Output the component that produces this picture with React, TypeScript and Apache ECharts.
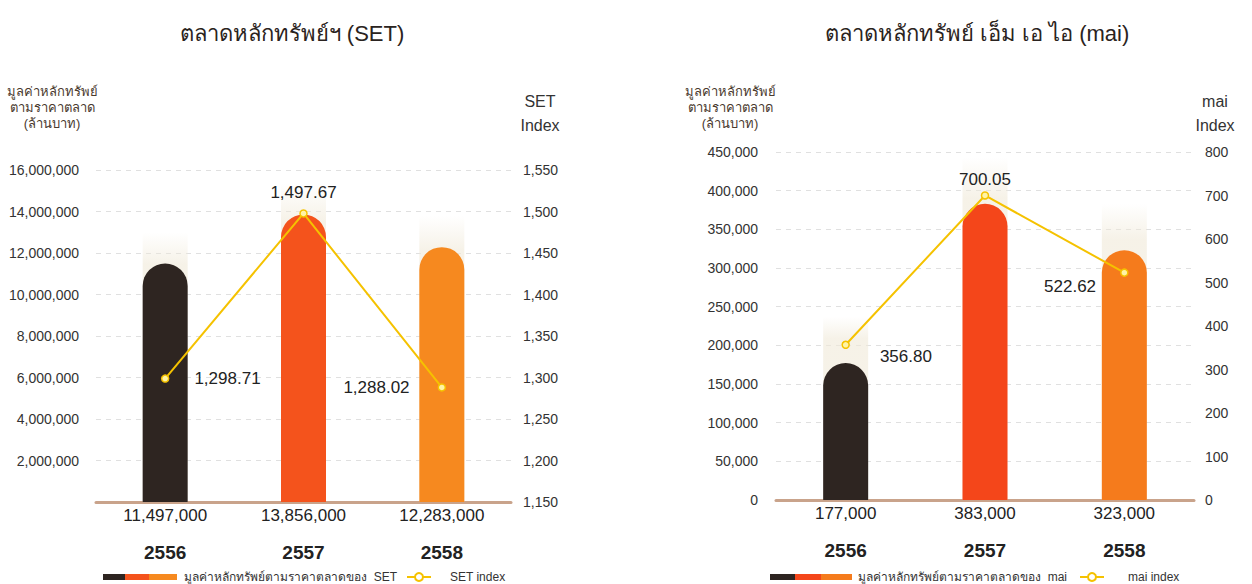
import React, { useEffect, useRef } from 'react';
import * as echarts from 'echarts';

const categories = ['2556', '2557', '2558'];
const setMarketCap = [11497000, 13856000, 12283000];
const setIndex = [1298.71, 1497.67, 1288.02];
const maiMarketCap = [177000, 383000, 323000];
const maiIndex = [356.8, 700.05, 522.62];

const setBarColors = ['#2e2521', '#f4531c', '#f6891f'];
const maiBarColors = ['#2e2521', '#f4461a', '#f57b1c'];

const setTitle = 'ตลาดหลักทรัพย์ฯ (SET)';
const maiTitle = 'ตลาดหลักทรัพย์ เอ็ม เอ ไอ (mai)';
const leftAxisName = 'มูลค่าหลักทรัพย์\nตามราคาตลาด\n(ล้านบาท)';
const setRightName = 'SET\nIndex';
const maiRightName = 'mai\nIndex';
const setLegendBar = 'มูลค่าหลักทรัพย์ตามราคาตลาดของ  SET';
const setLegendLine = 'SET index';
const maiLegendBar = 'มูลค่าหลักทรัพย์ตามราคาตลาดของ  mai';
const maiLegendLine = 'mai index';

const FONT = '"Liberation Sans", Arial, "Noto Sans", sans-serif';
const LINE_COLOR = '#f5c200';
const GLOW_SET = 1500000;
const GLOW_MAI = 60000;

const fmtInt = (v: number) => v.toLocaleString('en-US');
const fmtDec = (v: number) =>
  v.toLocaleString('en-US', { minimumFractionDigits: 2, maximumFractionDigits: 2 });

function glowStyle() {
  return {
    color: new echarts.graphic.LinearGradient(0, 0, 0, 1, [
      { offset: 0, color: 'rgba(240,233,216,0.0)' },
      { offset: 0.12, color: 'rgba(240,233,216,0.6)' },
      { offset: 1, color: 'rgba(240,233,216,0.6)' },
    ]),
  };
}

export default function App() {
  const ref = useRef<HTMLDivElement>(null);
  useEffect(() => {
    if (!ref.current) return;
    const chart = echarts.init(ref.current, null, { renderer: 'svg' });

    const xRich = {
      v: { fontSize: 17, color: '#222', fontFamily: FONT, lineHeight: 20 },
      y: { fontSize: 19, fontWeight: 'bold', color: '#222', fontFamily: FONT, lineHeight: 54 },
    };
    const makeX = (gridIndex: number, values: number[]) => ({
      gridIndex,
      type: 'category',
      data: categories,
      axisLine: { show: true, lineStyle: { color: '#c9a38b', width: 3 } },
      axisTick: { show: false },
      axisLabel: {
        margin: 3,
        formatter: (v: string, i: number) => `{v|${fmtInt(values[i])}}\n{y|${v}}`,
        rich: xRich,
      },
    });
    const axisLabelBase = { color: '#333', fontSize: 14, fontFamily: FONT };

    const lineLabel = (positions: any[]) => (v: number, i: number) => ({
      value: v,
      label: positions[i],
    });

    const setLabelPos = [
      { position: 'right', distance: 25 },
      { position: 'top', distance: 8 },
      { position: 'left', distance: 28 },
    ];
    const maiLabelPos = [
      { position: 'right', distance: 30, offset: [0, 12] },
      { position: 'top', distance: 3 },
      { position: 'left', distance: 24, offset: [0, 14] },
    ];

    const lineSeries = (xi: number, yi: number, data: number[], pos: any[]) => ({
      type: 'line',
      xAxisIndex: xi,
      yAxisIndex: yi,
      data: data.map(lineLabel(pos)),
      symbol: 'circle',
      symbolSize: 7,
      z: 5,
      lineStyle: { color: LINE_COLOR, width: 2 },
      itemStyle: { color: '#fff4a6', borderColor: LINE_COLOR, borderWidth: 1.5 },
      label: {
        show: true,
        color: '#222',
        fontSize: 17,
        fontFamily: FONT,
        formatter: (p: any) => fmtDec(p.value),
      },
    });

    const barSeries = (xi: number, yi: number, data: number[], colors: string[]) => ({
      type: 'bar',
      xAxisIndex: xi,
      yAxisIndex: yi,
      barWidth: 45,
      barGap: '-100%',
      z: 3,
      data: data.map((v, i) => ({ value: v, itemStyle: { color: colors[i] } })),
      itemStyle: { borderRadius: [22.5, 22.5, 0, 0] },
    });

    const glowSeries = (xi: number, yi: number, data: number[], extra: number) => ({
      type: 'bar',
      xAxisIndex: xi,
      yAxisIndex: yi,
      barWidth: 45,
      barGap: '-100%',
      silent: true,
      z: 1,
      data: data.map((v) => v + extra),
      itemStyle: glowStyle(),
    });

    const splitLine = { show: true, lineStyle: { color: '#e0e0e0', type: [5, 5], width: 1 } };

    const txt = (x: number, y: number, text: string, size: number, extra: any = {}) => ({
      type: 'text',
      x,
      y,
      style: {
        text,
        fontSize: size,
        fontFamily: FONT,
        fill: '#2a2320',
        align: 'center',
        verticalAlign: 'middle',
        textAlign: 'center',
        textVerticalAlign: 'middle',
        ...extra,
      },
    });

    const legendSwatch = (x: number, w: number, colors: string[]) => ({
      type: 'rect',
      shape: { x, y: 574, width: w, height: 6 },
      style: {
        fill: new echarts.graphic.LinearGradient(0, 0, 1, 0, [
          { offset: 0, color: colors[0] },
          { offset: 0.3, color: colors[0] },
          { offset: 0.3, color: colors[1] },
          { offset: 0.62, color: colors[1] },
          { offset: 0.62, color: colors[2] },
          { offset: 1, color: colors[2] },
        ]),
      },
    });
    const legendLineIcon = (x: number) => [
      {
        type: 'line',
        shape: { x1: x, y1: 577, x2: x + 24, y2: 577 },
        style: { stroke: LINE_COLOR, lineWidth: 2 },
      },
      {
        type: 'circle',
        shape: { cx: x + 12, cy: 577, r: 4 },
        style: { fill: '#fff', stroke: LINE_COLOR, lineWidth: 2 },
      },
    ];

    const titleStyle = { fontSize: 22, fontWeight: 'normal', color: '#2a2320', fontFamily: FONT };

    const option: any = {
      animation: false,
      backgroundColor: '#fff',
      title: [
        { text: setTitle, left: 287, top: 17, textAlign: 'center', textStyle: titleStyle },
        { text: maiTitle, left: 972, top: 17, textAlign: 'center', textStyle: titleStyle },
      ],
      grid: [
        { left: 96, right: 741, top: 170, bottom: 82 },
        { left: 776, right: 58, top: 152, bottom: 84 },
      ],
      xAxis: [makeX(0, setMarketCap), makeX(1, maiMarketCap)],
      yAxis: [
        {
          gridIndex: 0,
          type: 'value',
          min: 0,
          max: 16000000,
          interval: 2000000,
          position: 'left',
          axisLine: { show: false },
          axisTick: { show: false },
          splitLine,
          axisLabel: {
            ...axisLabelBase,
            margin: 17,
            formatter: (v: number) => (v === 0 ? '' : fmtInt(v)),
          },
        },
        {
          gridIndex: 0,
          type: 'value',
          min: 1150,
          max: 1550,
          interval: 50,
          position: 'right',
          axisLine: { show: false },
          axisTick: { show: false },
          splitLine: { show: false },
          axisLabel: { ...axisLabelBase, margin: 12, formatter: (v: number) => fmtInt(v) },
        },
        {
          gridIndex: 1,
          type: 'value',
          min: 0,
          max: 450000,
          interval: 50000,
          position: 'left',
          axisLine: { show: false },
          axisTick: { show: false },
          splitLine,
          axisLabel: { ...axisLabelBase, margin: 18, formatter: (v: number) => fmtInt(v) },
        },
        {
          gridIndex: 1,
          type: 'value',
          min: 0,
          max: 800,
          interval: 100,
          position: 'right',
          axisLine: { show: false },
          axisTick: { show: false },
          splitLine: { show: false },
          axisLabel: { ...axisLabelBase, margin: 11, formatter: (v: number) => fmtInt(v) },
        },
      ],
      series: [
        glowSeries(0, 0, setMarketCap, GLOW_SET),
        barSeries(0, 0, setMarketCap, setBarColors),
        lineSeries(0, 1, setIndex, setLabelPos),
        glowSeries(1, 2, maiMarketCap, GLOW_MAI),
        barSeries(1, 2, maiMarketCap, maiBarColors),
        lineSeries(1, 3, maiIndex, maiLabelPos),
      ],
      graphic: [
        txt(52, 107, leftAxisName, 13, { lineHeight: 16, fill: '#4a3a2e' }),
        txt(730, 107, leftAxisName, 13, { lineHeight: 16, fill: '#4a3a2e' }),
        txt(540, 113, setRightName, 16, { lineHeight: 24, fill: '#333' }),
        txt(1215, 113, maiRightName, 16, { lineHeight: 24, fill: '#333' }),
        legendSwatch(103, 74, setBarColors),
        txt(184, 577, setLegendBar, 12, { align: 'left', textAlign: 'left', fill: '#333' }),
        ...legendLineIcon(407),
        txt(450, 577, setLegendLine, 12, { align: 'left', textAlign: 'left', fill: '#333' }),
        legendSwatch(770, 82, maiBarColors),
        txt(858, 577, maiLegendBar, 12, { align: 'left', textAlign: 'left', fill: '#333' }),
        ...legendLineIcon(1080),
        txt(1128, 577, maiLegendLine, 12, { align: 'left', textAlign: 'left', fill: '#333' }),
      ],
    };

    chart.setOption(option);
    return () => chart.dispose();
  }, []);

  return (
    <div
      ref={ref}
      style={{ position: 'absolute', left: 0, top: 0, width: 1252, height: 584 }}
    />
  );
}
